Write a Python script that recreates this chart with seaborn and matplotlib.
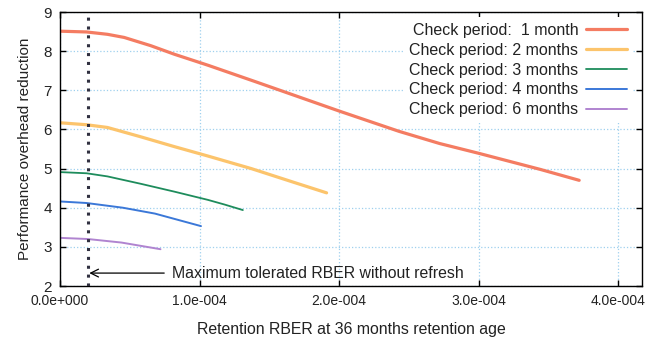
import matplotlib
matplotlib.use("Agg")
import matplotlib.pyplot as plt
import seaborn as sns
import pandas as pd

# ---- data (x in units of 1e-4 RBER) ----
series_labels = ["Check period:  1 month", "Check period: 2 months", "Check period: 3 months",
                 "Check period: 4 months", "Check period: 6 months"]

x_1m = [0.0, 0.19, 0.34, 0.46, 0.65, 0.82, 1.06, 1.4, 2.0, 2.43, 2.72, 3.0, 3.44, 3.72]
y_1m = [8.51, 8.49, 8.43, 8.35, 8.14, 7.92, 7.64, 7.22, 6.47, 5.95, 5.64, 5.39, 4.98, 4.70]

x_2m = [0.0, 0.19, 0.34, 0.58, 0.82, 1.06, 1.37, 1.70, 1.91]
y_2m = [6.17, 6.12, 6.05, 5.81, 5.56, 5.32, 5.00, 4.62, 4.38]

x_3m = [0.0, 0.19, 0.34, 0.58, 0.82, 1.06, 1.18, 1.31]
y_3m = [4.91, 4.88, 4.80, 4.61, 4.41, 4.20, 4.08, 3.94]

x_4m = [0.0, 0.19, 0.45, 0.68, 1.01]
y_4m = [4.16, 4.12, 4.00, 3.85, 3.53]

x_6m = [0.0, 0.2, 0.44, 0.72]
y_6m = [3.23, 3.20, 3.11, 2.94]

threshold_x = 0.2  # x1e-4
annotation_text = "Maximum tolerated RBER without refresh"

xticks = [0, 1, 2, 3, 4]
xtick_labels = ["0.0e+000", "1.0e-004", "2.0e-004", "3.0e-004", "4.0e-004"]
yticks = [2, 3, 4, 5, 6, 7, 8, 9]

xs = [x_1m, x_2m, x_3m, x_4m, x_6m]
ys = [y_1m, y_2m, y_3m, y_4m, y_6m]
colors = ["#f47c62", "#fcc46c", "#1e8c5c", "#3b78d8", "#b084d0"]
widths = [2.3, 2.3, 1.3, 1.4, 1.4]

frames = []
for lab, xv, yv in zip(series_labels, xs, ys):
    frames.append(pd.DataFrame({"x": [v * 1e-4 for v in xv], "y": yv, "series": lab}))
df = pd.concat(frames, ignore_index=True)

sns.set_style("ticks")
plt.rcParams["font.family"] = ["Liberation Sans", "DejaVu Sans"]

fig = plt.figure(figsize=(6.47, 3.49), dpi=100)
ax = fig.add_axes([60 / 647, 1 - 286 / 349, (642 - 60) / 647, (286 - 12) / 349])

for lab, c, w in zip(series_labels, colors, widths):
    sub = df[df["series"] == lab]
    sns.lineplot(data=sub, x="x", y="y", ax=ax, color=c, lw=w, label=lab, sort=False,
                 estimator=None)

ax.axvline(threshold_x * 1e-4, color="#303040", lw=2.2, ls=(0, (1, 1.9)), zorder=3)

ax.annotate(annotation_text, xy=(threshold_x * 1e-4, 2.33), xytext=(0.8e-4, 2.33),
            fontsize=11.4, va="center", ha="left", color="#222222",
            arrowprops=dict(arrowstyle="->", color="black", lw=0.9, shrinkA=3, shrinkB=1,
                            mutation_scale=14))

ax.set_xlim(0, 4.17e-4)
ax.set_ylim(2, 9)
ax.set_xticks([t * 1e-4 for t in xticks])
ax.set_xticklabels(xtick_labels)
ax.set_yticks(yticks)

ax.grid(True, color="#9fd0ee", ls=":", lw=0.9)
ax.tick_params(axis="both", direction="in", length=4.5, width=1, top=True, right=True,
               colors="black", labelcolor="#222222")
ax.tick_params(axis="x", labelsize=10, pad=6)
ax.tick_params(axis="y", labelsize=11, pad=6)
for s in ax.spines.values():
    s.set_color("black")
    s.set_linewidth(1)
    s.set_visible(True)

ax.set_xlabel("Retention RBER at 36 months retention age", fontsize=11.4, color="#222222",
              labelpad=10)
ax.set_ylabel("Performance overhead reduction", fontsize=11, color="#222222", labelpad=8)

leg = ax.legend(loc="upper right", bbox_to_anchor=(0.984, 0.98), markerfirst=False,
                fontsize=11.5, handlelength=2.6, handletextpad=0.45, labelspacing=0.3,
                borderpad=0.35, borderaxespad=0.0, frameon=True, fancybox=False)
leg.get_frame().set_facecolor("white")
leg.get_frame().set_edgecolor("none")
leg.get_frame().set_alpha(1.0)
for t in leg.get_texts():
    t.set_color("#222222")

fig.savefig("out.png", dpi=100, facecolor="white")
